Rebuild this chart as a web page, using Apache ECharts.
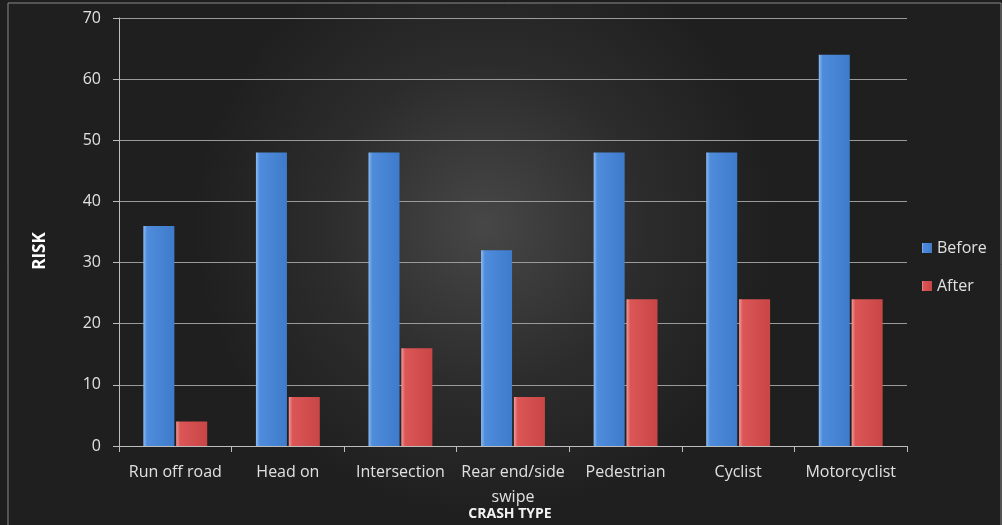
<!DOCTYPE html>
<html>
<head>
<meta charset="utf-8">
<style>
  html, body { margin: 0; padding: 0; background: #1e1e1e; overflow: hidden; }
  #chart { width: 1002px; height: 525px; }
</style>
<script src="https://cdn.jsdelivr.net/npm/echarts@6/dist/echarts.min.js"></script>
</head>
<body>
<div id="chart"></div>
<script>
// Crash risk by crash type, before and after treatment
const categories = ['Run off road', 'Head on', 'Intersection', 'Rear end/side\nswipe', 'Pedestrian', 'Cyclist', 'Motorcyclist'];
const beforeValues = [36, 48, 48, 32, 48, 48, 64];
const afterValues = [4, 8, 16, 8, 24, 24, 24];
const yTicks = { min: 0, max: 70, interval: 10 };

const chart = echarts.init(document.getElementById('chart'));

function barFill(light, mid, dark) {
  return new echarts.graphic.LinearGradient(0, 0, 1, 0, [
    { offset: 0, color: light },
    { offset: 0.12, color: mid },
    { offset: 1, color: dark }
  ]);
}

const font = '"Open Sans", "Noto Sans", sans-serif';

chart.setOption({
  backgroundColor: '#1e1e1e',
  textStyle: { fontFamily: font },
  graphic: [
    {
      type: 'rect',
      z: -10,
      silent: true,
      shape: { x: 8, y: 3, width: 993, height: 530 },
      style: {
        fill: new echarts.graphic.RadialGradient(0.48, 0.42, 0.55, [
          { offset: 0, color: '#474747' },
          { offset: 0.55, color: '#2c2c2c' },
          { offset: 1, color: '#1f1f1f' }
        ]),
        stroke: '#8a8a8a',
        lineWidth: 1
      }
    },
    {
      type: 'text',
      silent: true,
      x: 40,
      y: 251,
      rotation: Math.PI / 2,
      style: {
        text: 'RISK',
        fill: '#ffffff',
        font: 'bold 17px ' + font,
        align: 'center',
        verticalAlign: 'middle'
      }
    },
    {
      type: 'text',
      silent: true,
      x: 510,
      y: 514,
      style: {
        text: 'CRASH TYPE',
        fill: '#f2f2f2',
        font: 'bold 14px ' + font,
        align: 'center',
        verticalAlign: 'middle'
      }
    }
  ],
  legend: {
    orient: 'vertical',
    left: 917,
    top: 235,
    itemWidth: 10,
    itemHeight: 10,
    itemGap: 22,
    icon: 'rect',
    textStyle: { color: '#e0e0e0', fontSize: 16, fontFamily: font },
    data: ['Before', 'After']
  },
  grid: {
    left: 119, width: 788, top: 18, height: 428,
    outerBoundsMode: 'none', containLabel: false
  },
  xAxis: {
    type: 'category',
    data: categories,
    axisLine: { lineStyle: { color: '#bdbdbd', width: 1 } },
    axisTick: { show: true, length: 6, lineStyle: { color: '#bdbdbd' } },
    axisLabel: {
      color: '#e0e0e0',
      fontSize: 16,
      margin: 14,
      lineHeight: 25,
      interval: 0
    }
  },
  yAxis: {
    type: 'value',
    min: yTicks.min,
    max: yTicks.max,
    interval: yTicks.interval,
    axisLine: { show: true, lineStyle: { color: '#bdbdbd', width: 1 } },
    axisTick: { show: true, length: 6, lineStyle: { color: '#bdbdbd' } },
    axisLabel: { color: '#e0e0e0', fontSize: 16, margin: 18 },
    splitLine: { lineStyle: { color: '#9a9a9a', width: 1 } }
  },
  series: [
    {
      name: 'Before',
      type: 'bar',
      data: beforeValues,
      barWidth: 31,
      barGap: '6%',
      itemStyle: { color: barFill('#8cbcf4', '#4f8ddc', '#3e7bcb') }
    },
    {
      name: 'After',
      type: 'bar',
      data: afterValues,
      barWidth: 31,
      barGap: '6%',
      itemStyle: { color: barFill('#f29a9a', '#dc5656', '#c94646') }
    }
  ]
});
</script>
</body>
</html>
